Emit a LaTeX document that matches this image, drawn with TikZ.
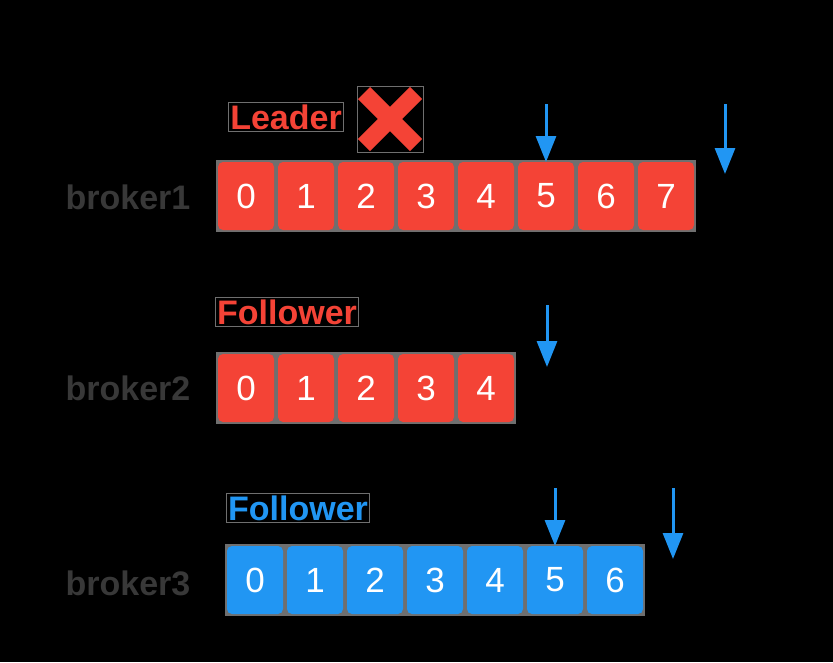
\documentclass[tikz,border=0pt]{standalone}
\usepackage{fontspec}
\setmainfont{Liberation Sans}
\usetikzlibrary{arrows.meta,backgrounds,positioning}
\definecolor{logred}{HTML}{F44336}
\definecolor{logblue}{HTML}{2196F3}
\definecolor{halo}{HTML}{6F6F6F}
\definecolor{brokergray}{HTML}{383838}

\begin{document}
\begin{tikzpicture}[
            x=1pt,y=-1pt,
            every node/.append style={inner sep=0pt,outer sep=0pt},
            slot/.style={minimum width=56pt,minimum height=68pt,rounded corners=5pt,
                text=white,font=\fontsize{35}{35}\selectfont},
            redslot/.style={slot,fill=logred},
            blueslot/.style={slot,fill=logblue},
            broker/.style={text=brokergray,font=\fontsize{34}{34}\selectfont\bfseries},
            role/.style={font=\fontsize{34}{34}\selectfont\bfseries,draw=halo,line width=1pt,inner sep=2pt},
            pointer/.style={logblue,line width=3pt,-{Triangle[width=20pt,length=26pt]}}
        ]
            \useasboundingbox (0,0) rectangle (833,662);
            \node[broker] (broker1) at (128,197) {broker1};
            \node[broker] (broker2) at (128,388) {broker2};
            \node[broker] (broker3) at (128,583) {broker3};
            \foreach \i in {0,...,7}
                \node[redslot] (a\i) at (246+60*\i,196) {\i};
            \foreach \i in {0,...,4}
                \node[redslot] (b\i) at (246+60*\i,388) {\i};
            \foreach \i in {0,...,6}
                \node[blueslot] (c\i) at (255+60*\i,580) {\i};
            \node[role,text=logred] (leader) at (286,117) {Leader};
            \node[role,text=logred] (follower1) at (287,312) {Follower};
            \node[role,text=logblue] (follower2) at (298,508) {Follower};
            \node[draw=halo,line width=1pt,minimum width=66pt,minimum height=66pt] (cross) at (390,119) {};
            \draw[logred,line width=17pt] ([shift={(-26,-26)}]cross.center) -- ([shift={(26,26)}]cross.center);
            \draw[logred,line width=17pt] ([shift={(26,-26)}]cross.center) -- ([shift={(-26,26)}]cross.center);
            \coordinate (hw1) at (546,104);
            \coordinate (leo1) at (725,104);
            \coordinate (leo1e) at (725,174);
            \coordinate (leo2) at (547,305);
            \coordinate (leo2e) at (547,367);
            \coordinate (hw3) at (555,488);
            \coordinate (leo3) at (673,488);
            \coordinate (leo3e) at (673,559);
            \draw[pointer] (hw1) -- (a5.north);
            \draw[pointer] (leo1) -- (leo1e);
            \draw[pointer] (leo2) -- (leo2e);
            \draw[pointer] (hw3) -- (c5.north);
            \draw[pointer] (leo3) -- (leo3e);
            \begin{scope}[on background layer]
                \fill[black] (0,0) rectangle (833,662);
                \fill[halo] ([shift={(-2,-2)}]a0.north west) rectangle ([shift={(2,2)}]a7.south east);
                \fill[halo] ([shift={(-2,-2)}]b0.north west) rectangle ([shift={(2,2)}]b4.south east);
                \fill[halo] ([shift={(-2,-2)}]c0.north west) rectangle ([shift={(2,2)}]c6.south east);
            \end{scope}
        \end{tikzpicture}
\end{document}
